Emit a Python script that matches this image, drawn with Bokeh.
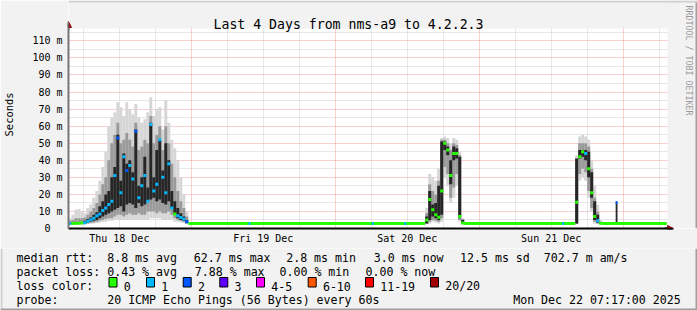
from math import pi
from bokeh.plotting import figure
from bokeh.layouts import column
from bokeh.models import (ColumnDataSource, Range1d, FixedTicker, Grid, Label, Arrow, NormalHead)
from bokeh.core.properties import value
from bokeh.embed import file_html
from bokeh.resources import INLINE

# ---------------- data: time = hours since Thu 18 Dec 2025 00:00, values in ms ----------------
# busy period Thu 18 Dec
r1_t = [3.75, 4.25, 4.75, 5.25, 5.75, 6.25, 6.75, 7.25, 7.75, 8.25, 8.75, 9.25, 9.75, 10.25, 10.75,
        11.25, 11.75, 12.25, 12.75, 13.25, 13.75, 14.25, 14.75, 15.25, 15.75, 16.25, 16.75, 17.25,
        17.75, 18.25, 18.75, 19.25, 19.75, 20.25, 20.75, 21.25, 21.75, 22.25, 22.75, 23.25]
r1_min = [2.2, 2.2, 2.2, 2.2, 2.3, 2.4, 2.6, 2.8, 3.0, 3.2, 3.5, 4.0, 4.0, 4.5, 4.5,
          5, 5, 5, 5, 5, 5, 5, 5, 5, 5, 5, 5, 6, 6, 6, 6, 5, 5, 5, 5, 4, 4, 3.5, 3.2, 2.6]
r1_lo2 = [2.5, 2.5, 2.5, 2.5, 2.6, 2.7, 3.0, 3.3, 3.5, 4.0, 4.5, 5.0, 5.5, 6.0, 6.0,
          7, 8, 8, 7, 8, 9, 8, 8, 9, 8, 8, 10, 10, 10, 9, 10, 9, 9, 10, 8, 6, 5, 4.5, 4, 3]
r1_lo = [2.8, 2.8, 2.8, 2.8, 2.9, 3.0, 3.5, 4.0, 4.5, 5.0, 6.0, 7.0, 8.0, 9.0, 10.0,
         11, 12, 13, 10, 14, 15, 14, 12, 15, 13, 14, 16, 17, 18, 16, 17, 15, 14, 16, 12, 8, 6, 5, 4.5, 3.5]
r1_hi = [3.5, 3.5, 3.6, 3.6, 3.8, 4.5, 5.5, 6.5, 8.0, 9.5, 13, 16, 20, 22, 30,
         36, 55, 28, 44, 38, 40, 33, 58, 25, 30, 42, 24, 62, 30, 46, 52, 34, 50, 40, 22, 16, 12, 9, 7, 5]
r1_hi2 = [4.5, 5.0, 6.0, 6.0, 6.0, 6.5, 8.0, 10, 12, 15, 20, 26, 30, 40, 50,
          55, 62, 50, 52, 56, 52, 48, 62, 46, 48, 52, 50, 66, 50, 55, 60, 46, 60, 50, 38, 30, 22, 16, 12, 7]
r1_max = [6, 8, 11, 11.5, 10, 9, 12, 14, 18, 22, 28, 36, 45, 60, 65,
          68, 74, 71, 66, 74, 70, 67, 73, 65, 62, 64, 68, 77, 66, 70, 71, 58, 75, 62, 52, 47, 40, 30, 20, 10]
r1_med = [3.0, 3.0, 3.1, 3.1, 3.2, 3.4, 4.2, 5.0, 6.0, 7.5, 8.5, 10.5, 12, 14, 16,
          31, 53, 21, 42, 34, 37, 29, 57, 18, 25, 31, 16, 61, 22, 26, 52, 30, 21, 38, 12, 8.5, 7.5, 6.5, 5.5, 4.0]
r1_loss = [1, 0, 0, 0, 0, 1, 1, 1, 1, 1, 1, 1, 1, 1, 1,
           1, 2, 1, 1, 2, 1, 1, 2, 1, 1, 1, 1, 1, 1, 1, 1, 1, 1, 1, 1, 0, 1, 1, 1, 2]

# busy period Sat 20 Dec
r2_t = [63.25, 63.75, 64.25, 64.75, 65.25, 65.75, 66.25, 66.75, 67.25, 67.75, 68.25, 68.75, 69.25]
r2_min = [2.5, 3, 4, 3.5, 3, 4, 30, 25, 15, 18, 25, 4, 2.4]
r2_lo2 = [2.8, 4, 5, 4.5, 4, 6, 36, 32, 18, 24, 32, 5, 2.7]
r2_lo = [3.0, 5, 7, 6, 5, 8, 46, 43, 26, 40, 41, 6, 3.0]
r2_hi = [7, 22, 14, 15, 25, 51, 51, 48, 40, 48, 47, 42, 5]
r2_hi2 = [9, 26, 22, 20, 28, 52, 52, 50, 46, 50, 49, 43, 5.5]
r2_max = [12, 32, 30, 28, 35, 53, 54, 53, 50, 53, 52, 45, 6]
r2_med = [5, 17, 11, 8, 6.6, 22, 50, 46, 31, 44, 44, 7, 3.2]
r2_loss = [0, 0, 0, 0, 0, 0, 0, 0, 0, 0, 0, 0, 0]

# busy period Sun 21 Dec
r3_t = [88.25, 88.75, 89.25, 89.75, 90.25, 90.75, 91.25, 91.75, 92.25]
r3_min = [2.5, 28, 30, 28, 18, 10, 3, 2.6, 2.4]
r3_lo2 = [2.8, 32, 35, 33, 22, 12, 4, 3, 2.6]
r3_lo = [3, 41, 42, 40, 30, 18, 5, 3.5, 2.8]
r3_hi = [41, 46, 46, 46, 45, 33, 16, 8, 3.8]
r3_hi2 = [41, 50, 50, 50, 48, 35, 18, 10, 4]
r3_max = [43, 54, 55, 54, 52, 40, 25, 14, 5]
r3_med = [15.4, 42, 45, 44, 35, 21, 7, 4.5, 3.1]
r3_loss = [0, 0, 0, 1, 0, 0, 0, 1, 0]

# single short spike late Sun 21 Dec
spike_t = [94.9]
spike_lo = [2.7]
spike_hi = [15.5]
spike_med = [15.2]
spike_loss = [2]

# quiet periods (median only)
base_t0 = [23.5, 69.5, 92.5]
base_t1 = [63.0, 88.0, 103.28]
base_med = [2.9, 2.9, 2.9]
blip_t = [33.7, 54.25, 59.67, 86.0]
blip_med = [2.9, 2.9, 2.9, 2.9]
blip_loss = [1, 1, 1, 1]

loss_labels = ["0", "1", "2", "3", "4-5", "6-10", "11-19", "20/20"]
loss_colors = ["#26ff00", "#00b8ff", "#0059ff", "#5e00ff", "#ff00ff", "#ff5500", "#ff0000", "#a10000"]

y_ticks = [0, 10, 20, 30, 40, 50, 60, 70, 80, 90, 100, 110]
y_labels = ["0\u00a0\u00a0", "10 m", "20 m", "30 m", "40 m", "50 m", "60 m", "70 m",
            "80 m", "90 m", "100 m", "110 m"]
x_ticks = [12, 36, 60, 84]
x_labels = ["Thu 18 Dec", "Fri 19 Dec", "Sat 20 Dec", "Sun 21 Dec"]

title_text = "Last 4 Days from nms-a9 to 4.2.2.3"
rtt_stats = ["8.8 ms avg", "62.7 ms max", "2.8 ms min", "3.0 ms now", "12.5 ms sd", "702.7 m am/s"]
loss_stats = ["0.43 % avg", "7.88 % max", "0.00 % min", "0.00 % now"]
probe_text = "20 ICMP Echo Pings (56 Bytes) every 60s"
stamp_text = "Mon Dec 22 07:17:00 2025"
side_text = "RRDTOOL / TOBI OETIKER"

# ---------------- layout geometry (canvas pixels) ----------------
MONO = "DejaVu Sans Mono"
BG = "#f2f2f2"
SHADE_A, SHADE_B = "#cfcfcf", "#9e9e9e"
W = 697
H_MAIN, H_LEG = 248, 62
FL, FB = 67, 228              # frame left / bottom of the main figure (frame reaches top & right edge)
PX_H, PX_MS = 6.008, 1.706    # pixels per hour / per ms
T0 = 3.53                     # hours at the left edge of the plot area
PLOT_R, PLOT_T = 667, 28      # right / top edge of the white plot area


def hx(px):
    return T0 + (px - FL) / PX_H


def vy(py):
    return (FB - py) / PX_MS


p = figure(width=W, height=H_MAIN, title=None,
           x_range=Range1d(hx(FL), hx(W)), y_range=Range1d(vy(FB), vy(0)),
           output_backend="svg", toolbar_location=None,
           min_border_left=FL, min_border_right=0, min_border_top=0, min_border_bottom=H_MAIN - FB,
           background_fill_color="white", border_fill_color=BG, outline_line_color=None)

# grids (red dotted majors, grey dotted minors)
p.xgrid.ticker = FixedTicker(ticks=[24, 48, 72, 96])
p.ygrid.ticker = FixedTicker(ticks=y_ticks[1:])
for g in (p.xgrid, p.ygrid):
    g.grid_line_color = "#f2a0a0"
    g.grid_line_dash = "1 1"
minor_x = [h for h in range(6, 103, 6) if h % 24]
minor_y = list(range(5, 117, 10))
p.add_layout(Grid(dimension=0, ticker=FixedTicker(ticks=minor_x), grid_line_color="#cfcfcf",
                  grid_line_dash="1 1"))
p.add_layout(Grid(dimension=1, ticker=FixedTicker(ticks=minor_y), grid_line_color="#cfcfcf",
                  grid_line_dash="1 1"))

# grey canvas outside the plot area (inside the frame) and the 3D edge
p.quad(left=hx(FL), right=hx(W), bottom=vy(PLOT_T), top=vy(0), fill_color=BG, line_color=None)
p.quad(left=hx(PLOT_R), right=hx(W), bottom=vy(FB), top=vy(0), fill_color=BG, line_color=None)
p.quad(left=hx(FL), right=hx(W), bottom=vy(2), top=vy(0), fill_color=SHADE_A, line_color=None)
p.quad(left=hx(W - 2), right=hx(W), bottom=vy(FB), top=vy(2), fill_color=SHADE_B, line_color=None)

# smoke
smoke = ColumnDataSource(dict(
    t=r1_t + r2_t + r3_t,
    mn=r1_min + r2_min + r3_min,
    lo2=r1_lo2 + r2_lo2 + r3_lo2,
    lo=r1_lo + r2_lo + r3_lo,
    hi=r1_hi + r2_hi + r3_hi,
    hi2=r1_hi2 + r2_hi2 + r3_hi2,
    mx=r1_max + r2_max + r3_max,
    med=r1_med + r2_med + r3_med,
    col=[loss_colors[k] for k in r1_loss + r2_loss + r3_loss],
))
p.vbar(x="t", width=0.5, bottom="mn", top="mx", source=smoke, fill_color="#d6d6d6", line_color=None)
p.vbar(x="t", width=0.5, bottom="lo2", top="hi2", source=smoke, fill_color="#9a9a9a", line_color=None)
p.vbar(x="t", width=0.5, bottom="lo", top="hi", source=smoke, fill_color="#262626", line_color=None)
p.vbar(x=spike_t, width=0.3, bottom=spike_lo, top=spike_hi, fill_color="#262626", line_color=None)

# medians coloured by loss
p.segment(x0=base_t0, y0=base_med, x1=base_t1, y1=base_med, line_color=loss_colors[0], line_width=3)
p.rect(x="t", y="med", width=0.5, height=3, height_units="screen", source=smoke,
       fill_color="col", line_color=None)
p.rect(x=blip_t, y=blip_med, width=0.35, height=3, height_units="screen",
       fill_color=[loss_colors[k] for k in blip_loss], line_color=None)
p.rect(x=spike_t, y=spike_med, width=0.3, height=3, height_units="screen",
       fill_color=[loss_colors[k] for k in spike_loss], line_color=None)

# axes
p.xaxis.ticker = FixedTicker(ticks=x_ticks)
p.xaxis.major_label_overrides = dict(zip(x_ticks, x_labels))
p.yaxis.ticker = FixedTicker(ticks=y_ticks)
p.yaxis.major_label_overrides = dict(zip(y_ticks, y_labels))
for ax in (p.xaxis[0], p.yaxis[0]):
    ax.major_tick_line_color = None
    ax.minor_tick_line_color = None
    ax.major_tick_out = 0
    ax.major_tick_in = 0
    ax.major_label_text_font = MONO
    ax.major_label_text_font_size = "10px"
    ax.major_label_text_color = "black"
p.xaxis.bounds = (hx(FL), hx(672))
p.xaxis.axis_line_color = "black"
p.xaxis.axis_line_width = 2
p.xaxis.major_label_standoff = 4
p.yaxis.bounds = (0, vy(23))
p.yaxis.axis_line_color = "#767676"
p.yaxis.axis_line_width = 2
p.yaxis.major_label_standoff = 6
p.yaxis.axis_label = "Seconds"
p.yaxis.axis_label_text_font = MONO
p.yaxis.axis_label_text_font_size = "10.4px"
p.yaxis.axis_label_text_font_style = "normal"
p.yaxis.axis_label_text_color = "black"
p.yaxis.axis_label_standoff = 14

# arrow heads at the axis ends
ARROW = "#8b1010"
p.add_layout(Arrow(x_start=hx(664), y_start=0, x_end=hx(673), y_end=0, line_color="black",
                   line_width=2, end=NormalHead(size=6, fill_color=ARROW, line_color=ARROW)))
p.add_layout(Arrow(x_start=hx(FL), y_start=vy(30), x_end=hx(FL), y_end=vy(21), line_color="#767676",
                   line_width=2, end=NormalHead(size=6, fill_color=ARROW, line_color=ARROW)))

# title and vertical credit (screen units, relative to the frame)
p.add_layout(Label(x=212 - FL, y=FB - 24.3, x_units="screen", y_units="screen", text=title_text,
                   text_font=MONO, text_font_size="13.2px", text_color="black",
                   text_baseline="alphabetic", text_align="left"))
p.add_layout(Label(x=687.5 - FL, y=FB - 5, x_units="screen", y_units="screen", text=side_text,
                   text_font=MONO, text_font_size="8.3px", text_color="#9a9a9a",
                   text_baseline="middle", text_align="left", angle=-pi / 2))

# ---------------- legend strip (data units = canvas pixels) ----------------
q = figure(width=W, height=H_LEG, x_range=Range1d(0, W), y_range=Range1d(H_MAIN + H_LEG, H_MAIN),
           output_backend="svg", toolbar_location=None, min_border=0,
           x_axis_location=None, y_axis_location=None,
           background_fill_color=BG, border_fill_color=BG, outline_line_color=None)
q.grid.visible = False
for fig in (p, q):
    if "frame_align" in fig.properties():
        fig.frame_align = False

rows_y = [257.7, 271.7, 285.7, 299.7]
leg_x, leg_y, leg_s = [], [], []


def put(x, y, s):
    leg_x.append(x)
    leg_y.append(y)
    leg_s.append(s)


put(16, rows_y[0], "median rtt:")
for xx, s in zip([106.7, 193.3, 285.7, 373.3, 459.5, 543.3], rtt_stats):
    put(xx, rows_y[0], s)
put(16, rows_y[1], "packet loss:")
for xx, s in zip([106.7, 194.3, 279.0, 365.0], loss_stats):
    put(xx, rows_y[1], s)
put(16, rows_y[2], "loss color:")
box_x = [108.5, 146.0, 182.7, 219.3, 256.0, 307.7, 365.0, 430.0]
for xx, s in zip(box_x, loss_labels):
    put(xx + 14.7, rows_y[2], s)
put(16, rows_y[3], "probe:")
put(106.7, rows_y[3], probe_text)
put(512.7, rows_y[3], stamp_text)

q.text(x=leg_x, y=leg_y, text=leg_s, text_font=value(MONO), text_font_size=value("11.6px"),
       text_color="black", text_baseline="alphabetic", text_align="left")
q.quad(left=box_x, right=[b + 8 for b in box_x], top=[277] * len(box_x), bottom=[286.5] * len(box_x),
       fill_color=loss_colors, line_color="black", line_width=1)

# 3D edge of the canvas
q.quad(left=0, right=2, top=H_MAIN, bottom=H_MAIN + H_LEG, fill_color=SHADE_A, line_color=None)
q.quad(left=W - 2, right=W, top=H_MAIN, bottom=H_MAIN + H_LEG, fill_color=SHADE_B, line_color=None)
q.quad(left=0, right=W, top=H_MAIN + H_LEG - 2, bottom=H_MAIN + H_LEG, fill_color=SHADE_B, line_color=None)

open("out.html", "w").write(file_html(column(p, q, spacing=0), INLINE))
